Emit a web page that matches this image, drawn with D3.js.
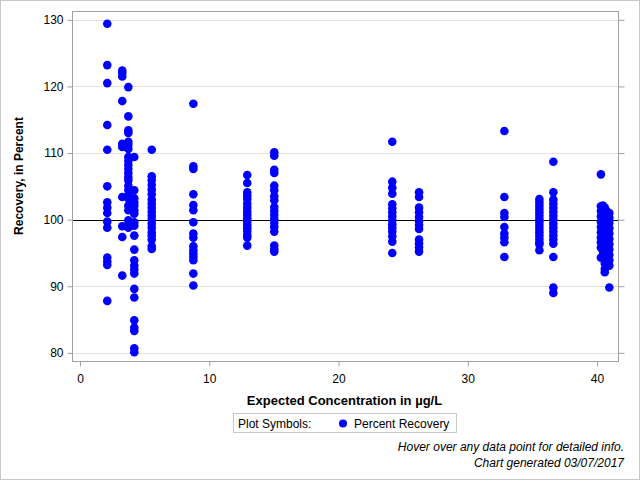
<!DOCTYPE html>
<html>
<head>
<meta charset="utf-8">
<script src="https://cdn.jsdelivr.net/npm/d3@7"></script>
<style>
  html, body { margin: 0; padding: 0; background: #fff; }
  svg { display: block; font-family: "Liberation Sans", Arial, sans-serif; }
</style>
</head>
<body>
<svg id="chart" width="640" height="480"></svg>
<script>
// ---- Data ----
const concentrations = [2.11, 3.27, 3.74, 4.2, 5.55, 8.77, 12.94, 15.03, 24.16, 26.23, 32.83, 35.54, 36.62, 40.3, 40.45, 40.6, 40.75, 40.95];
const recoveries = [
  [129.4, 123.2, 120.5, 114.2, 110.5, 105.0, 102.6, 101.8, 101.0, 99.7, 98.8, 94.3, 93.7, 93.2, 87.8],
  [122.4, 122.0, 121.5, 117.8, 111.4, 110.9, 103.4, 99.0, 97.4, 91.6],
  [119.9, 115.5, 113.4, 113.0, 111.7, 111.2, 110.6, 109.4, 108.8, 108.2, 107.6, 107.0, 106.4, 105.9, 105.1, 104.4, 103.6, 103.2, 102.1, 101.4, 99.9, 99.3, 98.8],
  [109.4, 104.4, 103.2, 102.6, 102.1, 101.4, 100.9, 99.6, 99.1, 97.6, 95.5, 93.9, 93.1, 92.5, 91.9, 89.6, 88.3, 84.9, 83.8, 83.3, 80.7, 80.1],
  [110.5, 106.5, 105.9, 105.2, 104.5, 103.8, 103.0, 102.4, 101.8, 101.2, 100.6, 100.0, 99.4, 98.8, 98.1, 97.6, 97.0, 96.0, 95.6],
  [117.4, 108.0, 107.6, 103.8, 102.2, 101.4, 99.6, 97.9, 97.3, 96.0, 95.4, 94.9, 94.4, 93.9, 91.9, 90.1],
  [106.7, 105.5, 104.1, 103.6, 103.1, 102.4, 101.8, 101.2, 100.7, 100.2, 99.7, 99.2, 98.7, 98.2, 97.7, 97.3, 96.1],
  [110.1, 109.6, 107.5, 107.0, 105.1, 104.4, 103.5, 102.9, 101.9, 101.3, 100.7, 100.1, 99.5, 98.9, 98.2, 96.1, 95.6, 95.2],
  [111.7, 105.7, 104.8, 103.9, 102.3, 101.7, 101.1, 100.5, 99.9, 99.3, 98.8, 98.2, 97.5, 96.7, 95.0],
  [104.1, 103.4, 101.8, 101.1, 100.4, 99.8, 99.2, 98.6, 97.0, 96.4, 95.8, 95.2],
  [113.3, 103.4, 101.0, 100.4, 98.9, 97.9, 97.3, 96.6, 94.4],
  [103.1, 102.6, 102.1, 101.6, 101.1, 100.6, 100.1, 99.6, 99.1, 98.6, 98.1, 97.6, 97.1, 96.6, 96.3, 95.4],
  [108.7, 104.1, 103.0, 102.4, 101.8, 101.2, 100.6, 100.0, 99.4, 98.8, 98.2, 97.6, 97.0, 96.4, 94.4, 89.8, 89.0],
  [106.8, 102.0, 101.3, 100.5, 99.7, 98.9, 98.1, 97.3, 96.6, 95.8, 94.3],
  [102.1, 101.6, 100.9, 100.1, 99.3, 98.5, 97.7, 96.9, 96.1, 95.3, 94.6],
  [101.8, 101.0, 100.2, 99.4, 98.6, 97.8, 97.0, 96.2, 95.4, 93.4, 92.6, 92.1],
  [101.3, 100.6, 99.8, 99.0, 98.2, 97.4, 96.6, 95.8, 95.0, 94.2, 93.4],
  [101.0, 100.3, 99.5, 98.7, 97.9, 97.1, 96.3, 95.5, 94.7, 93.9, 93.1, 89.8]
];
const xTicks = [0, 10, 20, 30, 40];
const yTicks = [80, 90, 100, 110, 120, 130];
const referenceValue = 100;
const xTitle = "Expected Concentration in µg/L";
const yTitle = "Recovery, in Percent";
const legendTitle = "Plot Symbols:";
const seriesName = "Percent Recovery";
const footnotes = ["Hover over any data point for detailed info.", "Chart generated 03/07/2017"];

// ---- Build points ----
const points = [];
concentrations.forEach((c, i) => recoveries[i].forEach(v => points.push({ x: c, y: v })));

// ---- Layout ----
const svg = d3.select("#chart");
const W = 640, H = 480;
const plot = { left: 72.5, right: 618.5, top: 11.5, bottom: 361.5 };

const x = d3.scaleLinear().domain([-0.58, 41.66]).range([plot.left, plot.right]);
const y = d3.scaleLinear().domain([78.7, 131.25]).range([plot.bottom, plot.top]);

// outer border
svg.append("rect").attr("x", 0.5).attr("y", 0.5).attr("width", W - 1).attr("height", H - 1)
  .attr("fill", "#fff").attr("stroke", "#c8c8c8");

// gridlines
svg.append("g").selectAll("line").data(yTicks).join("line")
  .attr("x1", plot.left).attr("x2", plot.right)
  .attr("y1", d => Math.round(y(d)) + 0.5).attr("y2", d => Math.round(y(d)) + 0.5)
  .attr("stroke", "#e2e2e2").attr("stroke-width", 1);

// reference line
svg.append("line")
  .attr("x1", plot.left).attr("x2", plot.right)
  .attr("y1", Math.round(y(referenceValue)) + 0.5).attr("y2", Math.round(y(referenceValue)) + 0.5)
  .attr("stroke", "#000").attr("stroke-width", 1);

// axes
const axisColor = "#a0a0a0";
const yAxis = svg.append("g").attr("transform", `translate(${plot.left},0)`)
  .call(d3.axisLeft(y).tickValues(yTicks).tickSize(5).tickPadding(4).tickSizeOuter(0));
const yAxisR = svg.append("g").attr("transform", `translate(${plot.right},0)`)
  .call(d3.axisRight(y).tickValues(yTicks).tickSize(6).tickFormat("").tickSizeOuter(0));
const xAxis = svg.append("g").attr("transform", `translate(0,${plot.bottom})`)
  .call(d3.axisBottom(x).tickValues(xTicks).tickSize(5).tickPadding(8).tickSizeOuter(0));
[yAxis, yAxisR, xAxis].forEach(g => {
  g.select(".domain").remove();
  g.selectAll(".tick line").attr("stroke", axisColor);
  g.selectAll(".tick text").attr("fill", "#000").attr("font-size", 12)
    .attr("font-family", "'Liberation Sans', Arial, sans-serif");
});

// frame
svg.append("rect").attr("x", plot.left).attr("y", plot.top)
  .attr("width", plot.right - plot.left).attr("height", plot.bottom - plot.top)
  .attr("fill", "none").attr("stroke", axisColor);

// points
svg.append("g").selectAll("circle").data(points).join("circle")
  .attr("cx", d => x(d.x)).attr("cy", d => y(d.y)).attr("r", 4.3)
  .attr("fill", "#0000ff");

// axis titles
svg.append("text").attr("x", (x(0) + x(40)) / 2 + 6).attr("y", 405)
  .attr("text-anchor", "middle").attr("font-size", 13).attr("font-weight", "bold")
  .text(xTitle);
svg.append("text").attr("transform", "translate(23,176) rotate(-90)")
  .attr("text-anchor", "middle").attr("font-size", 12).attr("font-weight", "bold")
  .text(yTitle);

// legend
const lg = svg.append("g");
lg.append("rect").attr("x", 233.5).attr("y", 413.5).attr("width", 223).attr("height", 19)
  .attr("fill", "#fff").attr("stroke", "#c8c8c8");
lg.append("text").attr("x", 238).attr("y", 428).attr("font-size", 12).text(legendTitle);
lg.append("circle").attr("cx", 343).attr("cy", 423.5).attr("r", 4).attr("fill", "#0000ff");
lg.append("text").attr("x", 354).attr("y", 428).attr("font-size", 12).text(seriesName);

// footnotes
svg.append("g").selectAll("text").data(footnotes).join("text")
  .attr("x", 624).attr("y", (d, i) => 451 + i * 16)
  .attr("text-anchor", "end").attr("font-size", 12).attr("font-style", "italic")
  .text(d => d);
</script>
</body>
</html>
